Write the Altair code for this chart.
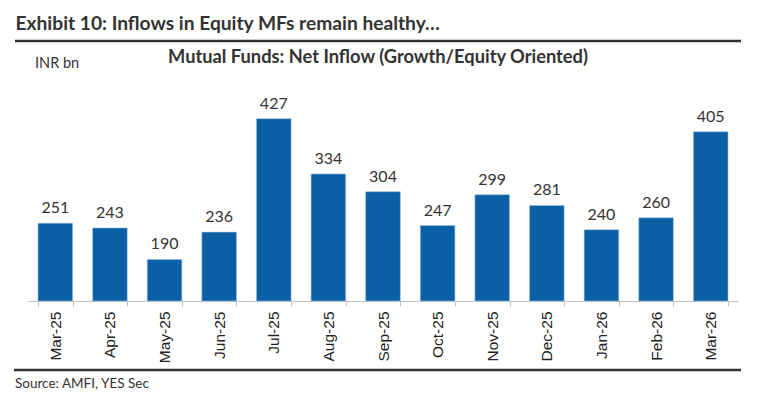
import altair as alt
import pandas as pd

months = ["Mar-25", "Apr-25", "May-25", "Jun-25", "Jul-25", "Aug-25", "Sep-25",
          "Oct-25", "Nov-25", "Dec-25", "Jan-26", "Feb-26", "Mar-26"]
inflows = [251, 243, 190, 236, 427, 334, 304, 247, 299, 281, 240, 260, 405]

exhibit_title = "Exhibit 10: Inflows in Equity MFs remain healthy…"
chart_title = "Mutual Funds: Net Inflow (Growth/Equity Oriented)"
unit_label = "INR bn"
source_text = "Source: AMFI, YES Sec"

df = pd.DataFrame({"month": months, "value": inflows})

W, H = 710, 196
DARK = "#333333"
BLUE = "#0b5fa5"

x = alt.X("month:N", sort=months, title=None,
          scale=alt.Scale(paddingInner=0.366, paddingOuter=0.183),
          axis=alt.Axis(labelAngle=-90, labelFont="Liberation Sans", labelFontSize=15.5,
                        labelColor="#222222", labelPadding=5, tickSize=5, tickColor="#c0c0c0",
                        domainColor="#c0c0c0", tickBand="extent", grid=False))
y = alt.Y("value:Q", scale=alt.Scale(domain=[120, 450], zero=False, nice=False), axis=None)

base = alt.Chart(df)
bars = base.mark_bar(color=BLUE, stroke="#9cc3e6", strokeWidth=0.6).encode(
    x=x, y=y, y2=alt.datum(120))
labels = base.mark_text(font="Lato", fontSize=16, color=DARK, baseline="alphabetic", dy=-10).encode(
    x=x, y=y, text="value:Q")

def txt(s, xv, yv, size, weight="normal", align="left"):
    return alt.Chart(pd.DataFrame({"t": [s]})).mark_text(
        font="Lato", fontSize=size, fontWeight=weight, color=DARK, align=align,
        baseline="alphabetic").encode(x=alt.value(xv), y=alt.value(yv), text="t:N")

def hline(yv, x1, x2, w):
    return alt.Chart(pd.DataFrame({"a": [0]})).mark_rule(color=DARK, strokeWidth=w).encode(
        x=alt.value(x1), x2=alt.value(x2), y=alt.value(yv))

chart = alt.layer(
    bars, labels,
    txt(exhibit_title, -12.5, -75.5, 19.2, "bold"),
    hline(-64, -13, 713, 2.5),
    txt(chart_title, 350, -42, 18.3, "bold", "center"),
    txt(unit_label, 7, -37, 14.5),
    hline(265, -14, 713, 2.5),
    txt(source_text, -13, 283, 13.5),
).properties(
    width=W, height=H,
    autosize=alt.AutoSizeParams(type="none"),
    padding={"left": 20, "top": 97, "right": 21, "bottom": 95},
).configure_view(stroke=None)

chart.save("out.html", embed_options={"renderer": "svg", "actions": False})
